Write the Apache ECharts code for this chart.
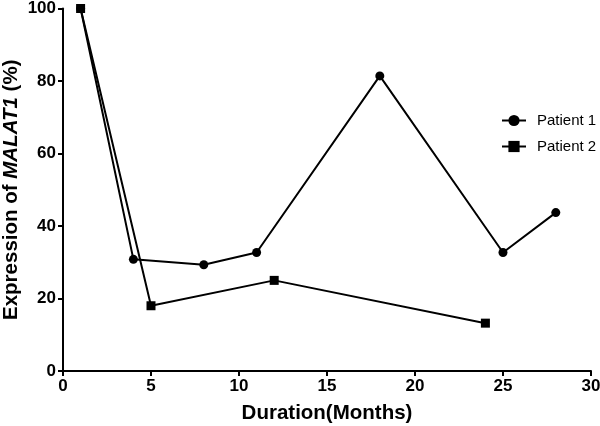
<!DOCTYPE html>
<html>
<head>
<meta charset="utf-8">
<script src="https://cdn.jsdelivr.net/npm/echarts@6/dist/echarts.min.js"></script>
<style>html,body{margin:0;padding:0;background:#fff;}#c{width:600px;height:426px;}</style>
</head>
<body>
<div id="c"></div>
<script>
const p1Months = [1, 4, 8, 11, 18, 25, 28];
const p1Values = [100, 30.8, 29.3, 32.7, 81.4, 32.7, 43.7];
const p2Months = [1, 5, 12, 24];
const p2Values = [100, 18.0, 25.0, 13.2];
const seriesNames = ['Patient 1', 'Patient 2'];
const xTitle = 'Duration(Months)';
const yTitle = 'Expression of {i|MALAT1} (%)';

const chart = echarts.init(document.getElementById('c'), null, {renderer: 'canvas'});
const font = 'Arial, "Liberation Sans", Helvetica, sans-serif';
const axisCommon = {
  axisLine: {lineStyle: {color: '#000', width: 2}},
  axisTick: {show: true, length: 5, lineStyle: {color: '#000', width: 2}},
  splitLine: {show: false},
  axisLabel: {color: '#000', fontWeight: 'bold', fontSize: 17, fontFamily: font},
  nameTextStyle: {color: '#000', fontWeight: 'bold', fontSize: 20.5, fontFamily: font}
};
chart.setOption({
  animation: false,
  backgroundColor: '#fff',
  grid: {left: 63, right: 9, top: 8.5, bottom: 55, containLabel: false, outerBoundsMode: 'none'},
  legend: {
    orient: 'vertical', left: 496, top: 108, itemGap: 11,
    itemWidth: 24, itemHeight: 14,
    textStyle: {color: '#000', fontSize: 15, fontFamily: font, padding: [0, 0, 0, 6]},
    data: seriesNames
  },
  xAxis: Object.assign({}, axisCommon, {
    type: 'value', min: 0, max: 30, interval: 5,
    name: xTitle, nameLocation: 'middle', nameGap: 32, nameMoveOverlap: false,
    axisLabel: Object.assign({}, axisCommon.axisLabel, {margin: 7})
  }),
  yAxis: Object.assign({}, axisCommon, {
    type: 'value', min: 0, max: 100, interval: 20,
    name: yTitle, nameLocation: 'middle', nameGap: 41, nameMoveOverlap: false,
    axisLabel: Object.assign({}, axisCommon.axisLabel, {margin: 7}),
    nameTextStyle: Object.assign({}, axisCommon.nameTextStyle, {
      rich: {i: {fontStyle: 'italic', fontWeight: 'bold', fontSize: 20.5, fontFamily: font, color: '#000'}}
    })
  }),
  series: [
    {
      name: seriesNames[0], type: 'line',
      data: p1Months.map((m, i) => [m, p1Values[i]]),
      symbol: 'circle', symbolSize: 9, showAllSymbol: true,
      lineStyle: {color: '#000', width: 2},
      itemStyle: {color: '#000'}
    },
    {
      name: seriesNames[1], type: 'line',
      data: p2Months.map((m, i) => [m, p2Values[i]]),
      symbol: 'rect', symbolSize: 9, showAllSymbol: true,
      lineStyle: {color: '#000', width: 2},
      itemStyle: {color: '#000'}
    }
  ]
});
</script>
</body>
</html>
